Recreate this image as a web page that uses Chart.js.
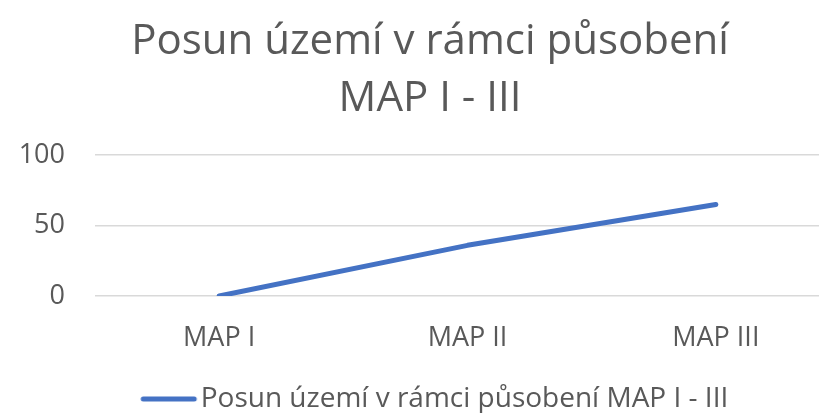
<!DOCTYPE html>
<html><head><meta charset="utf-8">
<script src="https://cdn.jsdelivr.net/npm/chart.js@4"></script>
<style>
html,body{margin:0;padding:0;background:#fff;overflow:hidden;width:819px;height:413px;}
#wrap{width:862px;height:413px;position:relative;}
</style></head>
<body>
<div id="wrap"><canvas id="c" width="862" height="413"></canvas></div>
<script>
const titleLines = ['Posun území v rámci působení', 'MAP I - III'];
const categories = ['MAP I', 'MAP II', 'MAP III'];
const seriesName = 'Posun území v rámci působení MAP I - III';
const seriesValues = [0, 36, 65];
const yTicks = [0, 50, 100];

const txt = '#595959';
const lineColor = '#4472C4';
const font = '"Open Sans", "Noto Sans", sans-serif';

// legend swatch: a thick line shifted right so it sits close to the text
const sw = document.createElement('canvas');
sw.width = 78; sw.height = 8;
(function () {
  const g = sw.getContext('2d');
  g.strokeStyle = lineColor; g.lineWidth = 5; g.lineCap = 'round';
  g.beginPath(); g.moveTo(23, 4); g.lineTo(74, 4); g.stroke();
})();

new Chart(document.getElementById('c'), {
  type: 'line',
  data: {
    labels: categories,
    datasets: [{
      label: seriesName,
      data: seriesValues,
      borderColor: lineColor,
      backgroundColor: lineColor,
      borderWidth: 5,
      borderCapStyle: 'round',
      borderJoinStyle: 'round',
      pointRadius: 0,
      tension: 0,
      fill: false
    }]
  },
  options: {
    responsive: false,
    animation: false,
    devicePixelRatio: 1,
    layout: { padding: { left: 20, right: 22, top: 13, bottom: -10 } },
    plugins: {
      title: {
        display: true,
        text: titleLines,
        color: txt,
        font: { family: font, size: 42, weight: 'normal', lineHeight: 1.36 },
        padding: { top: 0, bottom: 28 }
      },
      legend: {
        position: 'bottom',
        labels: {
          color: txt,
          font: { family: font, size: 28 },
          usePointStyle: true,
          pointStyle: sw,
          pointStyleWidth: 55,
          boxHeight: 28,
          padding: 2
        }
      },
      tooltip: { enabled: false }
    },
    scales: {
      x: {
        offset: true,
        afterFit: (s) => { s.height = 87; },
        grid: { display: false, drawTicks: false },
        border: { display: false },
        ticks: { color: txt, font: { family: font, size: 27 }, padding: 26 }
      },
      y: {
        min: 0, max: 100,
        afterFit: (s) => { s.width = 75; },
        afterBuildTicks: (s) => { s.ticks = yTicks.map(v => ({ value: v })); },
        grid: { color: '#D9D9D9', lineWidth: 1.5, drawTicks: false },
        border: { display: false },
        ticks: { color: txt, font: { family: font, size: 27 }, padding: 30 }
      }
    }
  }
});
</script>
</body></html>
